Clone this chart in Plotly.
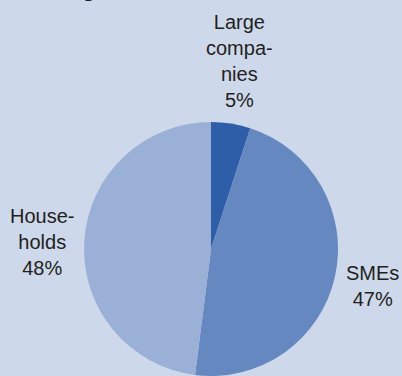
import plotly.graph_objects as go

W, H = 402, 376

categories = ["Large companies", "SMEs", "Households"]
shares = [5, 47, 48]
label_texts = ["Large<br>compa-<br>nies<br>5%", "SMEs<br>47%", "House-<br>holds<br>48%"]
colors = ["#2e5ea8", "#6588c0", "#9bb0d6"]
bg = "#cdd8ea"

fig = go.Figure(go.Pie(
    labels=categories,
    values=shares,
    sort=False,
    direction="clockwise",
    rotation=0,
    textinfo="none",
    hoverinfo="label+percent",
    marker=dict(colors=colors, line=dict(width=0)),
    domain=dict(x=[83 / W, 339 / W], y=[0, 254 / H]),
    showlegend=False,
))

# label positions (pixels)
label_pos = [(240, 61), (372, 286), (42, 242)]
for txt, (px, py) in zip(label_texts, label_pos):
    fig.add_annotation(
        text=txt, x=px / W, y=1 - py / H, xref="paper", yref="paper",
        xanchor="center", yanchor="middle", showarrow=False, align="center",
        font=dict(family="Liberation Sans, Arial, sans-serif", size=20, color="#231f20"),
    )

# cut-off title at the very top (only the descender is visible, as in the reference)
fig.add_annotation(
    text="<b>Lending</b>", x=98 / W, y=1, xref="paper", yref="paper",
    xanchor="right", yanchor="bottom", yshift=-3, showarrow=False,
    font=dict(family="Liberation Sans, Arial, sans-serif", size=22, color="#231f20"),
)

fig.update_layout(
    width=W, height=H,
    margin=dict(l=0, r=0, t=0, b=0),
    paper_bgcolor=bg, plot_bgcolor=bg,
)

fig.write_html("out.html")
